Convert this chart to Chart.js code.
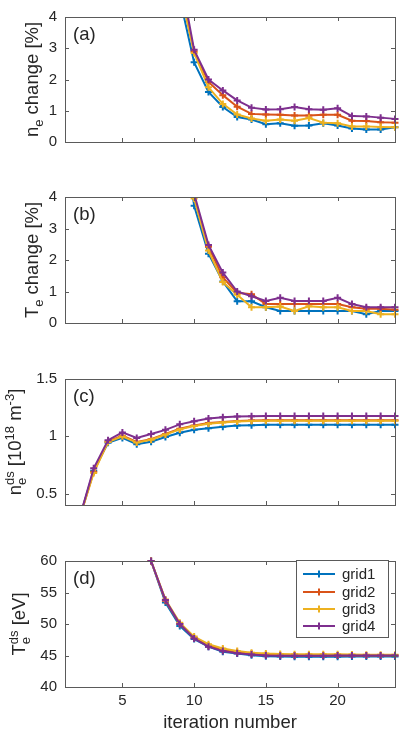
<!DOCTYPE html>
<html>
<head>
<meta charset="utf-8">
<script src="https://cdn.jsdelivr.net/npm/chart.js@4.4.0/dist/chart.umd.min.js"></script>
<style>
  html, body { margin: 0; padding: 0; background: #fff; }
  #wrap { position: relative; width: 404px; height: 730px; overflow: hidden; }
  canvas { position: absolute; left: 0; }
</style>
</head>
<body>
<div id="wrap">
  <canvas id="panelA" width="404" height="175" style="top:0px"></canvas>
  <canvas id="panelB" width="404" height="175" style="top:180px"></canvas>
  <canvas id="panelC" width="404" height="175" style="top:362px"></canvas>
  <canvas id="panelD" width="404" height="186" style="top:544px"></canvas>
</div>
<script>
// iteration axis
const iterations = [1, 2, 3, 4, 5, 6, 7, 8, 9, 10, 11, 12, 13, 14, 15, 16, 17, 18, 19, 20, 21, 22, 23, 24];
const xTicks = [5, 10, 15, 20];
const gridNames = ['grid1', 'grid2', 'grid3', 'grid4'];
const gridColors = ['#0072BD', '#D95319', '#EDB120', '#7E2F8E'];

// (a) n_e change [%], from iteration 9
const neChangeGrid1 = [4.6, 2.55, 1.6, 1.12, 0.8, 0.72, 0.57, 0.6, 0.52, 0.53, 0.6, 0.53, 0.43, 0.4, 0.4, 0.47];
const neChangeGrid2 = [5.0, 2.9, 1.92, 1.5, 1.13, 0.9, 0.88, 0.87, 0.85, 0.85, 0.87, 0.87, 0.68, 0.67, 0.63, 0.62];
const neChangeGrid3 = [4.9, 2.85, 1.75, 1.22, 0.88, 0.75, 0.68, 0.72, 0.68, 0.77, 0.62, 0.6, 0.5, 0.5, 0.48, 0.47];
const neChangeGrid4 = [5.4, 2.95, 2.0, 1.65, 1.33, 1.1, 1.04, 1.05, 1.12, 1.05, 1.03, 1.08, 0.83, 0.82, 0.78, 0.74];
const neChangeTicks = [0, 1, 2, 3, 4];

// (b) T_e change [%], from iteration 9
const teChangeGrid1 = [7.0, 3.72, 2.2, 1.32, 0.69, 0.69, 0.5, 0.38, 0.38, 0.38, 0.38, 0.38, 0.38, 0.28, 0.38, 0.38];
const teChangeGrid2 = [7.4, 4.0, 2.42, 1.45, 0.96, 0.91, 0.6, 0.6, 0.6, 0.6, 0.6, 0.6, 0.5, 0.45, 0.45, 0.42];
const teChangeGrid3 = [7.3, 3.95, 2.3, 1.3, 0.9, 0.5, 0.5, 0.52, 0.38, 0.53, 0.5, 0.5, 0.38, 0.38, 0.28, 0.28];
const teChangeGrid4 = [7.6, 4.1, 2.48, 1.6, 1.0, 0.85, 0.7, 0.8, 0.7, 0.7, 0.7, 0.8, 0.6, 0.5, 0.5, 0.5];
const teChangeTicks = [0, 1, 2, 3, 4];

// (c) n_e^ds [1e18 m^-3], from iteration 2
const nedsGrid1 = [0.28, 0.70, 0.944, 0.986, 0.93, 0.952, 0.994, 1.03, 1.056, 1.07, 1.084, 1.093, 1.096, 1.1, 1.1, 1.1, 1.1, 1.1, 1.1, 1.1, 1.1, 1.1, 1.1];
const nedsGrid2 = [0.28, 0.69, 0.955, 1.005, 0.95, 0.975, 1.02, 1.065, 1.095, 1.115, 1.125, 1.133, 1.138, 1.14, 1.14, 1.14, 1.14, 1.14, 1.14, 1.14, 1.14, 1.14, 1.14];
const nedsGrid3 = [0.28, 0.68, 0.95, 1.0, 0.945, 0.97, 1.015, 1.06, 1.09, 1.11, 1.12, 1.128, 1.133, 1.135, 1.135, 1.135, 1.135, 1.135, 1.135, 1.135, 1.135, 1.135, 1.135];
const nedsGrid4 = [0.28, 0.72, 0.966, 1.034, 0.986, 1.02, 1.056, 1.104, 1.132, 1.155, 1.166, 1.172, 1.175, 1.177, 1.177, 1.177, 1.177, 1.177, 1.177, 1.177, 1.177, 1.177, 1.177];
const nedsTicks = [0.5, 1, 1.5];

// (d) T_e^ds [eV], from iteration 7
const tedsGrid1 = [60, 53.4, 49.7, 47.6, 46.4, 45.6, 45.3, 45.05, 44.9, 44.85, 44.8, 44.8, 44.8, 44.8, 44.85, 44.85, 44.85, 44.85];
const tedsGrid2 = [60, 53.7, 50.0, 47.8, 46.6, 45.9, 45.5, 45.3, 45.15, 45.05, 45.0, 45.0, 45.0, 45.0, 45.0, 45.0, 45.0, 45.0];
const tedsGrid3 = [60, 53.9, 50.2, 48.0, 46.8, 46.1, 45.7, 45.45, 45.3, 45.25, 45.2, 45.2, 45.2, 45.2, 45.15, 45.1, 45.1, 45.1];
const tedsGrid4 = [60, 53.8, 50.0, 47.7, 46.4, 45.7, 45.35, 45.15, 45.0, 44.95, 44.95, 44.95, 44.95, 45.0, 45.0, 45.0, 45.0, 45.0];
const tedsTicks = [40, 45, 50, 55, 60];

const FONT = '"Liberation Sans", Arial, Helvetica, sans-serif';
const TEXT = '#262626';
const AXIS = '#5a5a5a';

// put values on the iteration axis, starting at a given iteration
function fromIter(start, values) {
    return iterations.map(it => (it < start ? null : values[it - start]));
}

function drawRich(ctx, parts, baseX, centerY) {
    const big = '18.5px ' + FONT, small = '13px ' + FONT;
    const widths = parts.map(p => {
        if (p.t !== undefined) { ctx.font = big; return ctx.measureText(p.t).width; }
        ctx.font = small;
        return Math.max(p.sub ? ctx.measureText(p.sub).width : 0, p.sup ? ctx.measureText(p.sup).width : 0);
    });
    const total = widths.reduce((a, b) => a + b, 0);
    ctx.save();
    ctx.translate(baseX, centerY);
    ctx.rotate(-Math.PI / 2);
    ctx.fillStyle = TEXT;
    ctx.textBaseline = 'alphabetic';
    ctx.textAlign = 'left';
    let x = -total / 2;
    parts.forEach((p, i) => {
        if (p.t !== undefined) {
            ctx.font = big;
            ctx.fillText(p.t, x, 0);
        } else {
            ctx.font = small;
            if (p.sub) ctx.fillText(p.sub, x, 5);
            if (p.sup) ctx.fillText(p.sup, x, -7);
        }
        x += widths[i];
    });
    ctx.restore();
}

const matlabAxes = {
    id: 'matlabAxes',
    afterDatasetsDraw(chart, args, opts) {
        const { ctx, chartArea: a, scales: { x, y } } = chart;
        ctx.save();
        ctx.strokeStyle = AXIS;
        ctx.lineWidth = 1;
        ctx.strokeRect(Math.round(a.left) + 0.5, Math.round(a.top) + 0.5, Math.round(a.width), Math.round(a.height));
        ctx.beginPath();
        xTicks.forEach(v => {
            const px = Math.round(x.getPixelForValue(v)) + 0.5;
            ctx.moveTo(px, a.bottom); ctx.lineTo(px, a.bottom - 4);
            ctx.moveTo(px, a.top); ctx.lineTo(px, a.top + 4);
        });
        opts.yTicks.forEach(v => {
            const py = Math.round(y.getPixelForValue(v)) + 0.5;
            ctx.moveTo(a.left, py); ctx.lineTo(a.left + 4, py);
            ctx.moveTo(a.right, py); ctx.lineTo(a.right - 4, py);
        });
        ctx.stroke();

        // panel tag
        ctx.fillStyle = TEXT;
        ctx.font = '18.5px ' + FONT;
        ctx.textBaseline = 'middle';
        ctx.textAlign = 'left';
        ctx.fillText(opts.tag, a.left + 8, a.top + 18);

        drawRich(ctx, opts.yTitle, opts.yTitleX, (a.top + a.bottom) / 2);

        if (opts.xTitle) {
            ctx.font = '18.5px ' + FONT;
            ctx.textAlign = 'center';
            ctx.textBaseline = 'alphabetic';
            ctx.fillStyle = TEXT;
            ctx.fillText(opts.xTitle, (a.left + a.right) / 2, opts.xTitleY);
        }

        if (opts.legend) {
            const L = opts.legend;
            ctx.fillStyle = '#fff';
            ctx.fillRect(L.left, L.top, L.right - L.left, L.bottom - L.top);
            ctx.strokeStyle = AXIS;
            ctx.strokeRect(L.left + 0.5, L.top + 0.5, L.right - L.left, L.bottom - L.top);
            chart.data.datasets.forEach((ds, i) => {
                const ry = L.rows[i];
                ctx.strokeStyle = ds.borderColor;
                ctx.lineWidth = 2;
                ctx.beginPath();
                ctx.moveTo(L.left + 7, ry); ctx.lineTo(L.left + 39, ry);
                ctx.moveTo(L.left + 23, ry - 3.5); ctx.lineTo(L.left + 23, ry + 3.5);
                ctx.stroke();
                ctx.fillStyle = TEXT;
                ctx.font = '15px ' + FONT;
                ctx.textAlign = 'left';
                ctx.textBaseline = 'middle';
                ctx.fillText(ds.label, L.left + 46, ry + 1);
            });
        }
        ctx.restore();
    }
};

function makePanel(id, p) {
    const datasets = gridNames.map((name, i) => ({
        label: name,
        data: p.series[i],
        borderColor: gridColors[i],
        backgroundColor: gridColors[i],
        borderWidth: 2,
        pointStyle: 'cross',
        pointRadius: 3.5,
        pointHoverRadius: 3.5,
        pointBorderWidth: 2,
        tension: 0,
        order: 4 - i,
        clip: p.clip
    }));
    return new Chart(document.getElementById(id), {
        type: 'line',
        data: { labels: iterations, datasets },
        options: {
            responsive: false,
            animation: false,
            events: [],
            layout: { padding: { top: 12, right: 9, left: 0, bottom: 0 } },
            plugins: {
                legend: { display: false },
                tooltip: { enabled: false },
                matlabAxes: p
            },
            scales: {
                x: {
                    type: 'linear', min: 1, max: 24,
                    afterBuildTicks: s => { s.ticks = xTicks.map(v => ({ value: v })); },
                    afterFit: s => { s.height = p.xAxisHeight; },
                    grid: { display: false, drawTicks: false },
                    border: { display: false },
                    ticks: { display: !!p.xTitle, padding: 5, color: TEXT, maxRotation: 0, font: { family: FONT, size: 15 } }
                },
                y: {
                    min: p.yMin, max: p.yMax,
                    afterBuildTicks: s => { s.ticks = p.yTicks.map(v => ({ value: v })); },
                    afterFit: s => { s.width = 65; },
                    grid: { display: false, drawTicks: false },
                    border: { display: false },
                    ticks: { padding: 8, color: TEXT, font: { family: FONT, size: 15 }, callback: v => String(v) }
                }
            }
        },
        plugins: [matlabAxes]
    });
}

makePanel('panelA', {
    series: [neChangeGrid1, neChangeGrid2, neChangeGrid3, neChangeGrid4].map(s => fromIter(9, s)),
    yMin: 0, yMax: 4, yTicks: neChangeTicks, xAxisHeight: 33,
    clip: { left: 0, top: 0, right: 6, bottom: 0 },
    tag: '(a)', yTitleX: 38,
    yTitle: [{ t: 'n' }, { sub: 'e' }, { t: ' change [%]' }]
});

makePanel('panelB', {
    series: [teChangeGrid1, teChangeGrid2, teChangeGrid3, teChangeGrid4].map(s => fromIter(9, s)),
    yMin: 0, yMax: 4, yTicks: teChangeTicks, xAxisHeight: 32,
    clip: { left: 0, top: 0, right: 6, bottom: 0 },
    tag: '(b)', yTitleX: 38,
    yTitle: [{ t: 'T' }, { sub: 'e' }, { t: ' change [%]' }]
});

makePanel('panelC', {
    series: [nedsGrid1, nedsGrid2, nedsGrid3, nedsGrid4].map(s => fromIter(2, s)),
    yMin: 0.4, yMax: 1.5, yTicks: nedsTicks, xAxisHeight: 32,
    clip: { left: 0, top: 0, right: 6, bottom: 0 },
    tag: '(c)', yTitleX: 21,
    yTitle: [{ t: 'n' }, { sub: 'e', sup: 'ds' }, { t: ' [10' }, { sup: '18' }, { t: ' m' }, { sup: '-3' }, { t: ']' }]
});

makePanel('panelD', {
    series: [tedsGrid1, tedsGrid2, tedsGrid3, tedsGrid4].map(s => fromIter(7, s)),
    yMin: 40, yMax: 60, yTicks: tedsTicks, xAxisHeight: 43,
    clip: { left: 0, top: 5, right: 6, bottom: 0 },
    tag: '(d)', yTitleX: 25,
    yTitle: [{ t: 'T' }, { sub: 'e', sup: 'ds' }, { t: ' [eV]' }],
    xTitle: 'iteration number', xTitleY: 184,
    legend: { left: 296, right: 388, top: 16, bottom: 93, rows: [30, 48, 65, 82] }
});
</script>
</body>
</html>
